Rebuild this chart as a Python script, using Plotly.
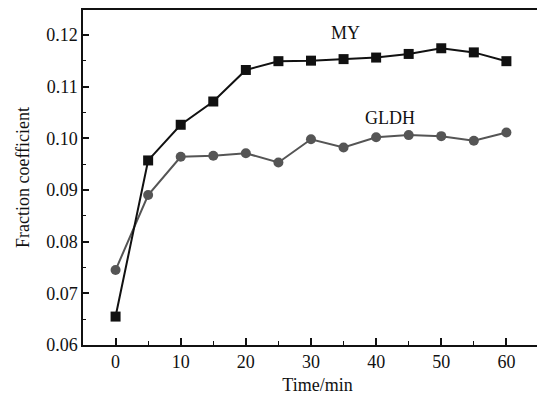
import plotly.graph_objects as go

time_min = [0, 5, 10, 15, 20, 25, 30, 35, 40, 45, 50, 55, 60]
my_values = [0.0655, 0.0957, 0.1026, 0.1071, 0.1132, 0.1149, 0.1150, 0.1153, 0.1156, 0.1163, 0.1174, 0.1166, 0.1149]
gldh_values = [0.0745, 0.0890, 0.0964, 0.0966, 0.0971, 0.0953, 0.0998, 0.0982, 0.1002, 0.1006, 0.1004, 0.0995, 0.1011]
x_ticks = [0, 10, 20, 30, 40, 50, 60]
y_ticks = [0.06, 0.07, 0.08, 0.09, 0.10, 0.11, 0.12]
y_tick_labels = ["0.06", "0.07", "0.08", "0.09", "0.10", "0.11", "0.12"]

FONT = "Liberation Serif, Times New Roman, serif"

fig = go.Figure()
fig.add_trace(go.Scatter(
    x=time_min, y=gldh_values, mode="lines+markers", name="GLDH",
    line=dict(color="#555555", width=2),
    marker=dict(symbol="circle", size=10, color="#555555"),
))
fig.add_trace(go.Scatter(
    x=time_min, y=my_values, mode="lines+markers", name="MY",
    line=dict(color="#111111", width=2),
    marker=dict(symbol="square", size=10, color="#111111"),
))

fig.add_annotation(x=35.3, y=0.1204, text="MY", showarrow=False,
                   font=dict(family=FONT, size=18, color="#111"))
fig.add_annotation(x=42.1, y=0.1039, text="GLDH", showarrow=False,
                   font=dict(family=FONT, size=18, color="#111"))

fig.update_layout(
    width=552, height=395, autosize=False,
    margin=dict(l=83, r=0, t=10, b=50, autoexpand=False),
    paper_bgcolor="white", plot_bgcolor="white",
    showlegend=False,
    font=dict(family=FONT, size=18, color="#111"),
)
fig.update_xaxes(
    range=[-5, 67], tickvals=x_ticks, ticks="inside", ticklen=7, tickwidth=1.5,
    tickcolor="#111", showline=True, linecolor="#111", linewidth=1.5, mirror=True,
    showgrid=False, zeroline=False,
    minor=dict(dtick=5, ticks="inside", ticklen=4, tickwidth=1.2, tickcolor="#111"),
    title=dict(text="Time/min", font=dict(size=18), standoff=17),
)
fig.update_yaxes(
    range=[0.06, 0.1248], tickvals=y_ticks, ticktext=y_tick_labels,
    ticks="inside", ticklen=6, tickwidth=1.5,
    tickcolor="#111", showline=True, linecolor="#111", linewidth=1.5,
    showgrid=False, zeroline=False,
    minor=dict(dtick=0.005, tick0=0.06, ticks="inside", ticklen=3, tickwidth=1.2, tickcolor="#111"),
    title=dict(text="Fraction coefficient", font=dict(size=18), standoff=12),
)

fig.write_html(
    "out.html",
    config={"responsive": False, "displayModeBar": False},
    post_script="document.documentElement.style.overflow='hidden';document.body.style.margin='0';document.body.style.overflow='hidden';",
)
